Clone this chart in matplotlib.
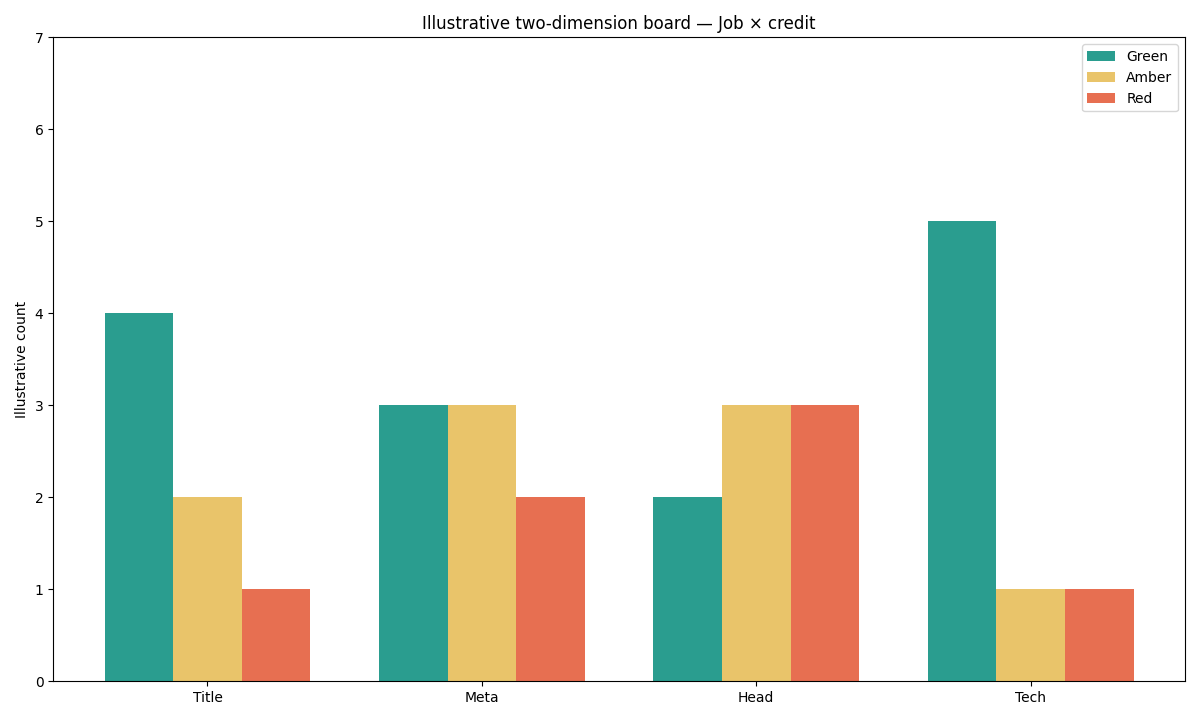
import matplotlib
matplotlib.use("Agg")
import matplotlib.pyplot as plt
import numpy as np

# données
categories = ["Title", "Meta", "Head", "Tech"]
green = [4, 3, 2, 5]
amber = [2, 3, 3, 1]
red = [1, 2, 3, 1]

series = [("Green", green, "#2a9d8f"),
          ("Amber", amber, "#e9c46a"),
          ("Red", red, "#e76f51")]

fig, ax = plt.subplots(figsize=(12, 7.2), dpi=100)

x = np.arange(len(categories))
width = 0.25

for k, (name, vals, color) in enumerate(series):
    ax.bar(x + (k - 1) * width, vals, width, label=name, color=color)

ax.set_xticks(x)
ax.set_xticklabels(categories)
ax.set_ylim(0, 7)
ax.set_ylabel("Illustrative count")
ax.set_title("Illustrative two-dimension board — Job × credit")
ax.legend(loc="upper right")

plt.tight_layout()
plt.savefig("out.png")
